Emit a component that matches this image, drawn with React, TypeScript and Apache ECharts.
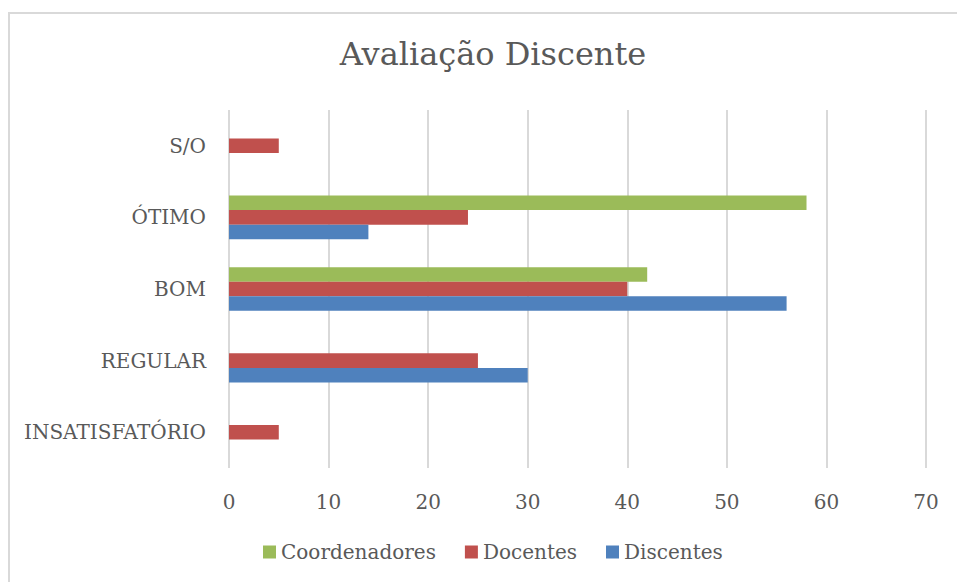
import React, { useEffect, useRef } from "react";
import * as echarts from "echarts";

const categories = ["INSATISFATÓRIO", "REGULAR", "BOM", "ÓTIMO", "S/O"];
const coordenadores = [0, 0, 42, 58, 0];
const docentes = [5, 25, 40, 24, 5];
const discentes = [0, 30, 56, 14, 0];
const seriesNames = ["Coordenadores", "Docentes", "Discentes"];
const titleText = "Avaliação Discente";

const FONT = "DejaVu Serif";
const TXT = "#595959";

export default function App() {
  const ref = useRef<HTMLDivElement>(null);
  useEffect(() => {
    const chart = echarts.init(ref.current!, undefined, { renderer: "svg" });
    const mk = (name: string, data: number[], color: string) => ({
      name,
      type: "bar",
      data,
      barGap: "0%",
      barCategoryGap: "39%",
      itemStyle: { color },
    });
    chart.setOption({
      animation: false,
      backgroundColor: "#ffffff",
      textStyle: { fontFamily: FONT },
      title: {
        text: titleText,
        left: 488,
        textAlign: "center",
        top: 33,
        textStyle: { fontFamily: FONT, fontSize: 32, fontWeight: "normal", color: TXT },
      },
      graphic: [
        {
          type: "rect",
          shape: { x: 9, y: 13, width: 1200, height: 1200 },
          style: { fill: "none", stroke: "#d9d9d9", lineWidth: 2 },
          silent: true,
        },
      ],
      legend: {
        data: seriesNames,
        left: 258,
        top: 537,
        itemWidth: 13,
        itemHeight: 13,
        itemGap: 29,
        icon: "rect",
        textStyle: { fontFamily: FONT, fontSize: 20, color: TXT },
      },
      grid: { left: 229, right: 31, top: 110, bottom: 114, containLabel: false },
      xAxis: {
        type: "value",
        min: 0,
        max: 70,
        interval: 10,
        axisLine: { show: false },
        axisTick: { show: false },
        splitLine: { show: true, lineStyle: { color: "#d9d9d9", width: 2 } },
        axisLabel: { fontFamily: FONT, fontSize: 20, color: TXT, margin: 24 },
      },
      yAxis: {
        type: "category",
        data: categories,
        axisLine: { show: false },
        axisTick: { show: false },
        axisLabel: { fontFamily: FONT, fontSize: 20, color: TXT, margin: 23 },
      },
      series: [
        mk(seriesNames[0], coordenadores, "#9bbb59"),
        mk(seriesNames[1], docentes, "#c0504d"),
        mk(seriesNames[2], discentes, "#4f81bd"),
      ],
    });
    return () => chart.dispose();
  }, []);
  return (
    <div
      ref={ref}
      style={{ position: "fixed", left: 0, top: 0, width: 957, height: 582 }}
    />
  );
}
